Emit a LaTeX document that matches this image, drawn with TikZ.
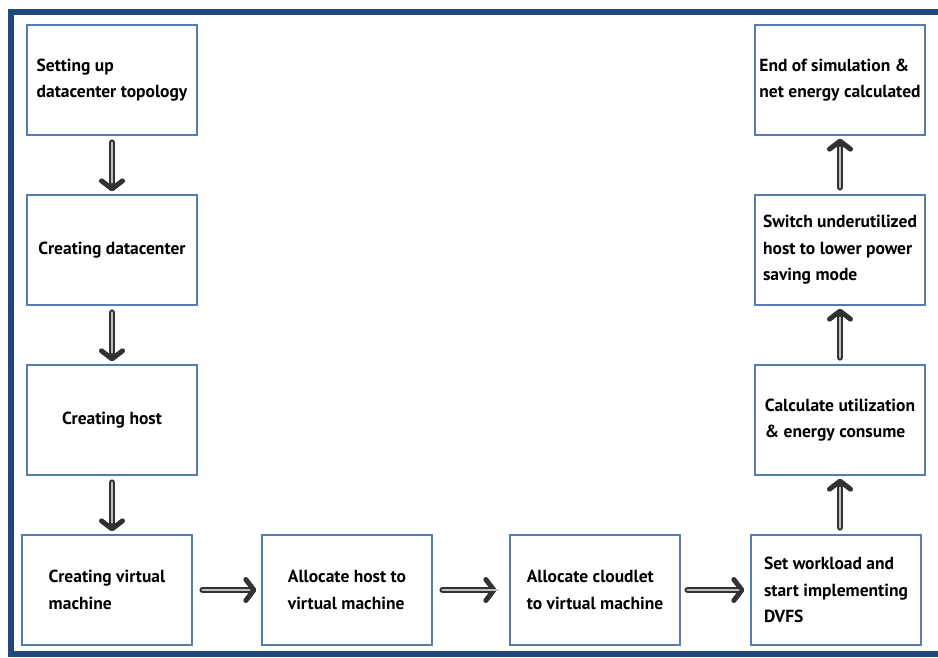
\documentclass[tikz,border=0pt]{standalone}
\usepackage{fontspec}
\setmainfont{PT Sans}
\usetikzlibrary{positioning,arrows.meta,calc}
\definecolor{framblue}{RGB}{31,73,125}
\definecolor{boxblue}{RGB}{84,124,178}
\definecolor{arrdark}{RGB}{50,50,50}
\tikzset{
  stagebox/.style={draw=boxblue, line width=1.3pt, fill=white, minimum width=170pt,
                   minimum height=110pt, align=left, inner sep=2pt,
                   font=\fontsize{17.5}{26.5}\selectfont\bfseries},
  flowarr/.style={line width=6.5pt, arrdark, line cap=round,
                  -{Straight Barb[length=8pt, width=21pt, line width=5pt, round]},
                  postaction={draw, -, line width=2.8pt, gray!50, shorten >=12pt}}
}
\begin{document}
\begin{tikzpicture}[x=1pt, y=-1pt]
  \useasboundingbox (0,0) rectangle (938,657);
  % outer frame
  \draw[framblue, line width=5.5pt] (11,12) rectangle (960,654);

  % left column
  \node[stagebox] (topo) at (112,80) {Setting up\\datacenter topology};
  \node[stagebox] (dc)   at (112,250) {Creating datacenter};
  \node[stagebox] (host) at (112,420) {Creating host};
  \node[stagebox] (vm)   at (107,590) {Creating virtual\\machine};

  % bottom row
  \node[stagebox] (alloch) at (347,590) {Allocate host to\\virtual machine};
  \node[stagebox] (allocc) at (595,590) {Allocate cloudlet\\to virtual machine};
  \node[stagebox] (dvfs)   at (836,590) {Set workload and\\start implementing\\DVFS};

  % right column
  \node[stagebox] (util)  at (840,420) {Calculate utilization\\\& energy consume};
  \node[stagebox] (power) at (840,250) {Switch underutilized\\host to lower power\\saving mode};
  \node[stagebox] (fin)   at (840,80)  {End of simulation \&\\net energy calculated};

  % connectors
  \draw[flowarr, shorten <=7pt, shorten >=3pt] (topo.south) -- (dc.north);
  \draw[flowarr, shorten <=7pt, shorten >=3pt] (dc.south) -- (host.north);
  \draw[flowarr, shorten <=7pt, shorten >=3pt] (host.south) -- (host.south |- vm.north);
  \draw[flowarr, shorten <=10pt, shorten >=5pt] (vm.east) -- (alloch.west);
  \draw[flowarr, shorten <=10pt, shorten >=13pt] (alloch.east) -- (allocc.west);
  \draw[flowarr, shorten <=7pt, shorten >=6pt] (allocc.east) -- (dvfs.west);
  \draw[flowarr, shorten <=7pt, shorten >=3pt] (dvfs.north -| util.south) -- (util.south);
  \draw[flowarr, shorten <=7pt, shorten >=3pt] (util.north) -- (power.south);
  \draw[flowarr, shorten <=7pt, shorten >=3pt] (power.north) -- (fin.south);
\end{tikzpicture}
\end{document}
